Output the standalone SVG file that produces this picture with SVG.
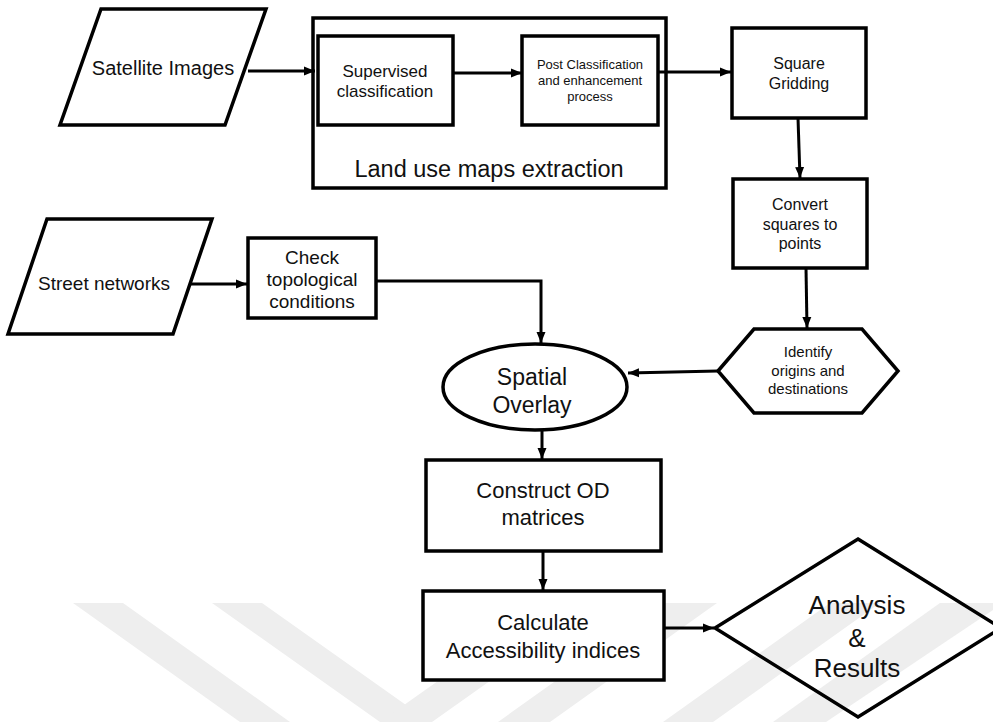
<svg xmlns="http://www.w3.org/2000/svg" width="993" height="722" viewBox="0 0 993 722">
<style>
.n{fill:#fff;stroke:#000;stroke-width:3.5}
.o{fill:none;stroke:#000;stroke-width:3.5}
.c{fill:none;stroke:#000;stroke-width:3}
.t{font-family:"Liberation Sans",Arial,sans-serif;fill:#111;text-anchor:middle}
.wm{fill:#eeeeee}
</style>
<defs>
<marker id="ah" markerUnits="userSpaceOnUse" markerWidth="12" markerHeight="10" refX="11" refY="5" orient="auto">
<path d="M0,0.5 L11,5 L0,9.5 z" fill="#000"/>
</marker>
</defs>
<rect width="993" height="722" fill="#fff"/>
<g id="watermark">
<polygon class="wm" points="73,603 123,603 290,722 240,722"/>
<polygon class="wm" points="212,603 262,603 430,722 380,722"/>
<polygon class="wm" points="548,603 600,603 432,722 380,722"/>
<polygon class="wm" points="665,603 717,603 550,722 498,722"/>
<polygon class="wm" points="830,603 880,603 713,722 663,722"/>
<polygon class="wm" points="940,603 993,603 993,610 826,722 773,722"/>
</g>
<g id="connectors">
<line class="c" x1="248" y1="71" x2="315" y2="71" marker-end="url(#ah)"/>
<line class="c" x1="453" y1="73" x2="522" y2="73" marker-end="url(#ah)"/>
<line class="c" x1="658" y1="72" x2="731" y2="72" marker-end="url(#ah)"/>
<line class="c" x1="798" y1="118" x2="800" y2="178" marker-end="url(#ah)"/>
<line class="c" x1="806" y1="268" x2="807" y2="328" marker-end="url(#ah)"/>
<line class="c" x1="718" y1="371" x2="628" y2="373" marker-end="url(#ah)"/>
<line class="c" x1="190" y1="284" x2="247" y2="284" marker-end="url(#ah)"/>
<polyline class="c" points="376,281 541,281 541,343" marker-end="url(#ah)"/>
<line class="c" x1="542" y1="430" x2="542" y2="459" marker-end="url(#ah)"/>
<line class="c" x1="543" y1="551" x2="543" y2="590" marker-end="url(#ah)"/>
<line class="c" x1="664" y1="628" x2="714" y2="628" marker-end="url(#ah)"/>
</g>
<g id="satellite">
<polygon class="n" points="101,9 266,9 225,125 60,125"/>
<text class="t" x="163" y="75" font-size="20">Satellite Images</text>
</g>
<g id="landuse">
<rect class="o" x="313" y="18" width="353" height="170"/>
<text class="t" x="489" y="177" font-size="23.5">Land use maps extraction</text>
</g>
<g id="supervised">
<rect class="n" x="318" y="36" width="135" height="89"/>
<text class="t" x="385" y="77" font-size="17">Supervised</text>
<text class="t" x="385" y="97" font-size="17">classification</text>
</g>
<g id="post">
<rect class="n" x="522" y="36" width="136" height="89"/>
<text class="t" x="590" y="69" font-size="13">Post Classification</text>
<text class="t" x="590" y="85" font-size="13">and enhancement</text>
<text class="t" x="590" y="101" font-size="13">process</text>
</g>
<g id="square">
<rect class="n" x="732" y="28" width="134" height="90"/>
<text class="t" x="799" y="69" font-size="16">Square</text>
<text class="t" x="799" y="89" font-size="16">Gridding</text>
</g>
<g id="convert">
<rect class="n" x="733" y="179" width="134" height="89"/>
<text class="t" x="800" y="210" font-size="16">Convert</text>
<text class="t" x="800" y="230" font-size="16">squares to</text>
<text class="t" x="800" y="249" font-size="16">points</text>
</g>
<g id="identify">
<polygon class="n" points="718,371 754,329 862,329 898,371 862,413 754,413"/>
<text class="t" x="808" y="357" font-size="15">Identify</text>
<text class="t" x="808" y="376" font-size="15">origins and</text>
<text class="t" x="808" y="394" font-size="15">destinations</text>
</g>
<g id="street">
<polygon class="n" points="47,219 212,219 173,334 8,334"/>
<text class="t" x="104" y="290" font-size="19">Street networks</text>
</g>
<g id="check">
<rect class="n" x="248" y="238" width="128" height="80"/>
<text class="t" x="312" y="264" font-size="19">Check</text>
<text class="t" x="312" y="286" font-size="19">topological</text>
<text class="t" x="312" y="308" font-size="19">conditions</text>
</g>
<g id="overlay">
<ellipse class="n" cx="535" cy="387" rx="92" ry="43"/>
<text class="t" x="532" y="385" font-size="23">Spatial</text>
<text class="t" x="532" y="413" font-size="23">Overlay</text>
</g>
<g id="construct">
<rect class="n" x="426" y="460" width="235" height="91"/>
<text class="t" x="543" y="498" font-size="22">Construct OD</text>
<text class="t" x="543" y="525" font-size="22">matrices</text>
</g>
<g id="calculate">
<rect class="n" x="423" y="591" width="241" height="89"/>
<text class="t" x="543" y="630" font-size="22">Calculate</text>
<text class="t" x="543" y="658" font-size="22">Accessibility indices</text>
</g>
<g id="analysis">
<polygon class="o" points="858,539 1001,628 858,717 715,628"/>
<text class="t" x="857" y="614" font-size="26">Analysis</text>
<text class="t" x="857" y="647" font-size="26">&amp;</text>
<text class="t" x="857" y="677" font-size="26">Results</text>
</g>
</svg>
